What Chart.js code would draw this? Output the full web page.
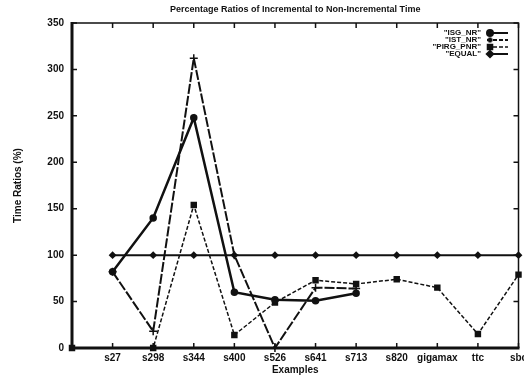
<!DOCTYPE html>
<html><head><meta charset="utf-8">
<script src="https://cdn.jsdelivr.net/npm/chart.js@4.4.0/dist/chart.umd.min.js"></script>
<style>html,body{margin:0;padding:0;background:#fff}#c{display:block}</style>
</head><body>
<canvas id="c" width="524" height="378"></canvas>
<script>
const categories = ['', 's27', 's298', 's344', 's400', 's526', 's641', 's713', 's820', 'gigamax', 'ttc', 'sbc'];
const isgNR   = [null, 82, 140, 248, 60, 52, 51, 59, null, null, null, null];
const istNR   = [null, 82, 18, 312, 100, 0, 65, 64, null, null, null, null];
const pirgPNR = [0, null, 0, 154, 14, 49, 73, 69, 74, 65, 15, 79];
const equal   = [null, 100, 100, 100, 100, 100, 100, 100, 100, 100, 100, 100];
const yTicks  = [0, 50, 100, 150, 200, 250, 300, 350];
const titleText = 'Percentage Ratios of Incremental to Non-Incremental Time';
const legendLabels = ['"ISG_NR"', '"IST_NR"', '"PIRG_PNR"', '"EQUAL"'];

const INK = '#111';
const FONT = 'Liberation Sans, Arial, sans-serif';

const datasets = [
  {label: legendLabels[0], data: isgNR, borderColor: INK, backgroundColor: INK, borderWidth: 2.5,
   pointStyle: 'circle', pointRadius: 2.5, spanGaps: false},
  {label: legendLabels[1], data: istNR, borderColor: INK, backgroundColor: INK, borderWidth: 2,
   borderDash: [10, 2], pointStyle: 'cross', pointRadius: 4, pointBorderWidth: 1.5},
  {label: legendLabels[2], data: pirgPNR, borderColor: INK, backgroundColor: INK, borderWidth: 1.5,
   borderDash: [4, 2], pointStyle: 'rect', pointRadius: 3.5, spanGaps: true},
  {label: legendLabels[3], data: equal, borderColor: INK, backgroundColor: INK, borderWidth: 2,
   pointStyle: 'rectRot', pointRadius: 2.5}
];
datasets.forEach(d => { d.clip = false; d.tension = 0; d.fill = false; d.pointHoverRadius = d.pointRadius; });

const framePlugin = {
  id: 'frame',
  afterDraw(chart) {
    const ctx = chart.ctx;
    const a = chart.chartArea;
    const xs = chart.scales.x, ys = chart.scales.y;
    ctx.save();
    ctx.strokeStyle = INK;
    ctx.lineWidth = 1.5;
    ctx.beginPath();
    for (let i = 1; i < categories.length; i++) {
      const px = xs.getPixelForValue(i);
      ctx.moveTo(px, a.bottom); ctx.lineTo(px, a.bottom - 5);
      ctx.moveTo(px, a.top); ctx.lineTo(px, a.top + 5);
    }
    yTicks.forEach(v => {
      const py = ys.getPixelForValue(v);
      ctx.moveTo(a.left, py); ctx.lineTo(a.left + 5, py);
      ctx.moveTo(a.right, py); ctx.lineTo(a.right - 5, py);
    });
    ctx.stroke();
    ctx.lineWidth = 1.5;
    ctx.beginPath();
    ctx.moveTo(a.left, a.top); ctx.lineTo(a.right, a.top); ctx.lineTo(a.right, a.bottom);
    ctx.stroke();
    ctx.lineWidth = 3;
    ctx.beginPath();
    ctx.moveTo(a.left, a.top - 1); ctx.lineTo(a.left, a.bottom); ctx.lineTo(a.right + 1, a.bottom);
    ctx.stroke();
    ctx.fillStyle = INK;
    ctx.font = 'bold 9px ' + FONT;
    ctx.textAlign = 'center';
    ctx.textBaseline = 'middle';
    ctx.fillText(titleText, (a.left + a.right) / 2, 10);
    const rows = [33, 40, 47, 54];
    ctx.textAlign = 'right';
    datasets.forEach((d, i) => {
      const y = rows[i];
      ctx.fillStyle = INK;
      ctx.font = 'bold 8px ' + FONT;
      ctx.fillText(d.label, 481, y);
      ctx.save();
      ctx.lineWidth = Math.min(d.borderWidth, 2);
      ctx.setLineDash(d.borderDash ? [4, 2] : []);
      ctx.beginPath(); ctx.moveTo(487, y); ctx.lineTo(508, y); ctx.stroke();
      ctx.restore();
      Chart.helpers.drawPoint(ctx, {pointStyle: d.pointStyle, radius: Math.min(d.pointRadius, 2.5), borderWidth: d.pointBorderWidth || 1, rotation: 0}, 490, y);
    });
    ctx.restore();
  }
};

new Chart(document.getElementById('c'), {
  type: 'line',
  data: {labels: categories, datasets},
  options: {
    responsive: false,
    animation: false,
    devicePixelRatio: 1,
    layout: {padding: {top: 23, right: 5, left: 0, bottom: 0}},
    plugins: {legend: {display: false}, title: {display: false}, tooltip: {enabled: false}},
    scales: {
      x: {
        type: 'category', offset: false,
        grid: {display: false, drawTicks: false}, border: {display: false},
        ticks: {color: INK, font: {family: FONT, size: 10, weight: 'bold'}, padding: 4, autoSkip: false, maxRotation: 0},
        title: {display: true, text: 'Examples', color: INK, font: {family: FONT, size: 10, weight: 'bold'}, padding: {top: 0, bottom: 2}},
        afterFit(s) { s.height = 30; s.paddingLeft = 0; s.paddingRight = 0; }
      },
      y: {
        min: 0, max: 350,
        grid: {display: false, drawTicks: false}, border: {display: false},
        ticks: {stepSize: 50, color: INK, font: {family: FONT, size: 10, weight: 'bold'}, padding: 8},
        title: {display: true, text: 'Time Ratios (%)', color: INK, font: {family: FONT, size: 10, weight: 'bold'}, padding: {top: 12, bottom: 0}},
        afterFit(s) { s.width = 72; }
      }
    }
  },
  plugins: [framePlugin]
});
</script>
</body></html>
